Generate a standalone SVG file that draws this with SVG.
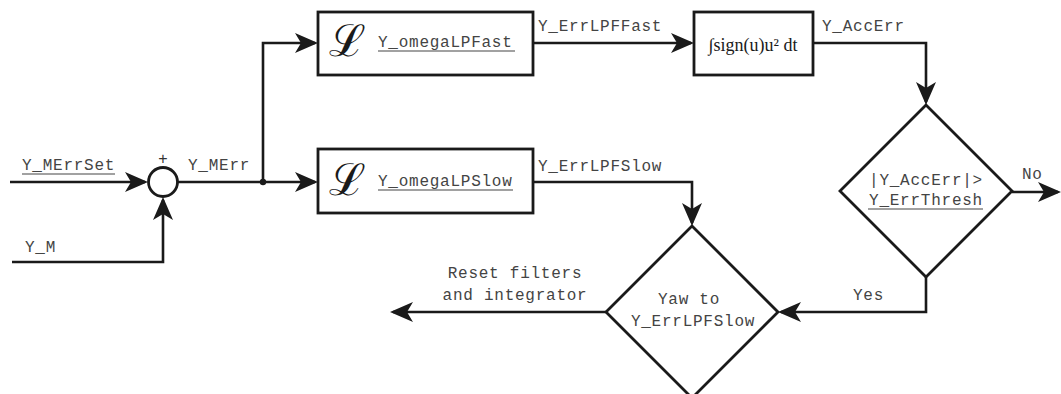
<svg xmlns="http://www.w3.org/2000/svg" width="1061" height="394" viewBox="0 0 1061 394">
<style>
.ln{fill:none;stroke:#1a1a1a;stroke-width:2.6;}
.bx{fill:#fff;stroke:#1a1a1a;stroke-width:2.8;}
.t{font-family:"Liberation Mono",monospace;font-size:16px;letter-spacing:0.75px;fill:#444;}
.m{text-anchor:middle;}
.u{stroke:#444;stroke-width:1.2;}
.L{font-family:"DejaVu Serif",serif;font-size:44px;fill:#1a1a1a;}
.tm{font-family:"Liberation Serif",serif;font-size:18px;fill:#1a1a1a;}
</style>
<defs>
<marker id="ah" viewBox="-26 -11 27 22" refX="-3" refY="0" markerWidth="27" markerHeight="22" markerUnits="userSpaceOnUse" orient="auto">
<path d="M0,0 L-23,-10 L-17,0 L-23,10 Z" fill="#1a1a1a"/>
</marker>
</defs>
<g id="connectors">
<polyline class="ln" points="10,182 145,182" marker-end="url(#ah)"/>
<polyline class="ln" points="12,262 163,262 163,200" marker-end="url(#ah)"/>
<polyline class="ln" points="178,182 315,182" marker-end="url(#ah)"/>
<circle cx="263" cy="182" r="3.2" fill="#1a1a1a"/>
<polyline class="ln" points="263,182 263,43 315,43" marker-end="url(#ah)"/>
<polyline class="ln" points="533,43 691,43" marker-end="url(#ah)"/>
<polyline class="ln" points="813,43 926,43 926,102" marker-end="url(#ah)"/>
<polyline class="ln" points="533,182 692,182 692,223" marker-end="url(#ah)"/>
<polyline class="ln" points="1012,192 1058,192" marker-end="url(#ah)"/>
<polyline class="ln" points="926,277 926,312 781,312" marker-end="url(#ah)"/>
<polyline class="ln" points="606,312 393,312" marker-end="url(#ah)"/>
</g>
<g id="labels">
<text class="t" x="22" y="170">Y_MErrSet</text>
<line class="u" x1="22" y1="174" x2="115" y2="174"/>
<text class="t" x="25" y="252">Y_M</text>
<text class="t" x="188" y="170">Y_MErr</text>
<text x="163" y="164" style="font-family:'Liberation Sans',sans-serif;font-size:16px;fill:#333" class="m">+</text>
<text class="t" x="538" y="31">Y_ErrLPFFast</text>
<text class="t" x="538" y="171">Y_ErrLPFSlow</text>
<text class="t" x="822" y="31">Y_AccErr</text>
<text class="t" x="1022" y="179">No</text>
<text class="t" x="853" y="300">Yes</text>
<text class="t m" x="515" y="278">Reset filters</text>
<text class="t m" x="515" y="300">and integrator</text>
</g>
<g id="sum">
<circle cx="163" cy="182" r="14.5" fill="#fff" stroke="#1a1a1a" stroke-width="2.8"/>
</g>
<g id="lpf-fast">
<rect class="bx" x="318" y="12" width="215" height="63"/>
<text class="L" x="329" y="56">ℒ</text>
<text class="t" x="378" y="47">Y_omegaLPFast</text>
<line class="u" x1="378" y1="51" x2="515" y2="51"/>
</g>
<g id="lpf-slow">
<rect class="bx" x="318" y="149" width="215" height="64"/>
<text class="L" x="329" y="195">ℒ</text>
<text class="t" x="378" y="186">Y_omegaLPSlow</text>
<line class="u" x1="378" y1="190" x2="513" y2="190"/>
</g>
<g id="integrator">
<rect class="bx" x="694" y="12" width="119" height="63"/>
<text class="tm m" x="753" y="51">∫sign(u)u² dt</text>
</g>
<g id="threshold">
<polygon class="bx" points="926,105 1012,191 926,277 840,191"/>
<text class="t m" x="926" y="185">|Y_AccErr|&gt;</text>
<text class="t m" x="926" y="205">Y_ErrThresh</text>
<line class="u" x1="868" y1="209" x2="983" y2="209"/>
</g>
<g id="yaw">
<polygon class="bx" points="692,226 778,312 692,398 606,312"/>
<text class="t m" x="689" y="304">Yaw to</text>
<text class="t m" x="693" y="326">Y_ErrLPFSlow</text>
</g>
</svg>
